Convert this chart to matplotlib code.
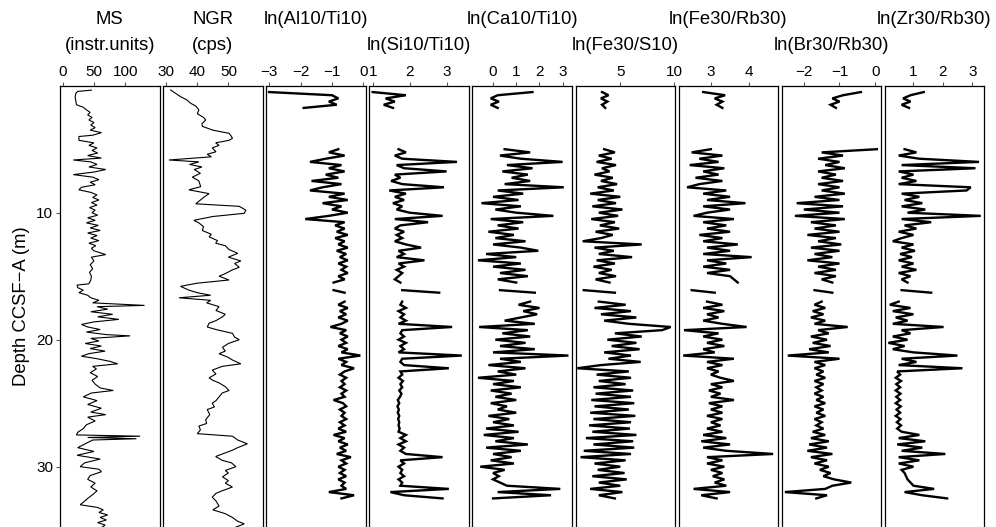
import numpy as np
import matplotlib
matplotlib.use('Agg')
import matplotlib.pyplot as plt

plt.rcParams['font.family'] = ['Liberation Sans', 'DejaVu Sans']

nan = np.nan

# magnetic susceptibility, depth (m) and value
ms_depth = [0.35, 0.45, 0.6, 0.9, 1.2, 1.5, 1.7, 1.9, 2.1, 2.3, 2.5, 2.7, 2.9, 3.1, 3.3, 3.5, 3.7, 3.9, 4.0, 4.3,
            4.5, 4.7, 4.9, 5.1, 5.3, 5.5, 5.7, 5.85, 6.0, 6.2, 6.4, 6.6, 6.8, 7.0, 7.2, 7.4, 7.6, 7.8, 8.0, 8.2,
            8.4, 8.6, 8.8, 9.0, 9.2, 9.4, 9.6, 9.8, 10.0, 10.2, 10.4, 10.6, 10.8, 11.0, 11.2, 11.4, 11.6, 11.8, 12.0, 12.2,
            12.4, 12.6, 12.8, 13.0, 13.3, 13.5, 13.8, 14.1, 14.4, 14.7, 15.0, 15.3, 15.6, 15.7, 15.9, 16.1, 16.3, 16.5, 16.7, 16.9,
            17.1, 17.3, 17.4, 17.6, 17.8, 18.0, 18.2, 18.4, 18.6, 18.8, 19.0, 19.2, 19.4, 19.6, 19.7, 19.9, 20.1, 20.3, 20.5, 20.7,
            20.9, 21.1, 21.3, 21.5, 21.7, 21.9, 22.1, 22.3, 22.6, 22.9, 23.2, 23.5, 23.8, 24.0, 24.2, 24.5, 24.8, 25.1, 25.4, 25.7,
            25.9, 26.1, 26.4, 26.7, 27.0, 27.3, 27.5, 27.6, 27.7, 27.8, 27.9, 28.2, 28.5, 28.8, 29.1, 29.4, 29.7, 30.0, 30.2, 30.4,
            30.7, 31.0, 31.3, 31.6, 31.9, 32.2, 32.5, 32.8, 33.0, 33.2, 33.4, 33.6, 33.8, 34.0, 34.2, 34.4, 34.6, 34.8]
ms_val = [46, 24, 21, 20, 21, 22, 33, 38, 44, 40, 47, 42, 50, 45, 52, 44, 62, 48, 26, 26,
          50, 42, 55, 47, 56, 40, 62, 17, 45, 55, 42, 69, 50, 17, 48, 58, 44, 52, 30, 26,
          45, 55, 48, 58, 46, 55, 43, 52, 47, 56, 40, 52, 38, 57, 44, 60, 40, 55, 45, 58,
          42, 53, 46, 50, 69, 46, 50, 44, 48, 43, 46, 45, 42, 23, 24, 33, 26, 40, 45, 58,
          48, 131, 55, 72, 45, 80, 56, 90, 50, 30, 40, 60, 38, 70, 108, 45, 58, 36, 62, 44,
          68, 42, 30, 55, 75, 88, 48, 54, 44, 56, 47, 52, 60, 81, 46, 33, 55, 40, 62, 45,
          69, 40, 52, 38, 33, 24, 22, 124, 40, 118, 48, 36, 24, 50, 23, 60, 35, 28, 58, 62,
          44, 40, 52, 45, 55, 48, 40, 33, 28, 55, 65, 58, 72, 60, 70, 56, 68, 62]

# natural gamma radiation
ngr_depth = [0.34, 0.6, 0.86, 1.1, 1.39, 1.6, 1.9, 2.2, 2.5, 2.7, 3.0, 3.2, 3.5, 3.75, 4.0, 4.15, 4.3, 4.5, 4.7, 4.9,
             5.2, 5.4, 5.6, 5.85, 6.0, 6.2, 6.4, 6.6, 6.9, 7.2, 7.5, 7.95, 8.2, 8.5, 8.8, 9.1, 9.3, 9.5, 9.8, 10.05,
             10.3, 10.6, 10.8, 11.1, 11.4, 11.7, 11.9, 12.2, 12.4, 12.6, 12.9, 13.2, 13.5, 13.8, 14.0, 14.3, 14.5, 14.8, 15.0, 15.3,
             15.55, 15.8, 16.1, 16.3, 16.5, 16.7, 16.9, 17.1, 17.4, 17.7, 18.0, 18.2, 18.5, 18.7, 19.0, 19.2, 19.5, 19.8, 20.0, 20.3,
             20.6, 20.9, 21.1, 21.4, 21.6, 21.9, 22.1, 22.4, 22.7, 23.0, 23.2, 23.4, 23.7, 24.0, 24.2, 24.5, 24.8, 25.0, 25.3, 25.5,
             25.9, 26.3, 26.6, 26.8, 27.1, 27.4, 27.6, 27.9, 28.2, 28.5, 28.7, 29.0, 29.2, 29.5, 29.7, 30.0, 30.3, 30.5, 30.8, 31.1,
             31.3, 31.6, 31.9, 32.1, 32.4, 32.7, 33.1, 33.4, 33.7, 34.0, 34.3, 34.5, 34.8]
ngr_val = [31.4, 33.0, 34.6, 36.5, 37.9, 39.5, 40.5, 40.0, 42.0, 42.7, 41.5, 41.6, 45.0, 50.2, 51.0, 51.3, 50.2, 45.9, 47.0, 44.8,
           46.0, 43.2, 44.5, 30.9, 40.5, 37.5, 41.5, 39.0, 41.0, 38.4, 40.5, 41.1, 37.3, 43.8, 42.0, 40.5, 39.5, 53.5, 55.6, 55.1,
           45.0, 38.9, 40.5, 42.0, 41.6, 44.5, 43.8, 46.5, 45.9, 49.0, 50.2, 53.0, 50.0, 54.0, 52.0, 53.5, 51.3, 49.0, 47.0, 50.2,
           40.0, 34.6, 37.3, 40.0, 44.3, 34.1, 44.3, 43.0, 47.0, 46.0, 49.0, 48.1, 46.0, 43.8, 43.2, 46.0, 51.3, 52.0, 53.5, 50.0,
           48.1, 49.0, 47.0, 50.0, 51.3, 54.0, 48.0, 44.8, 46.0, 43.8, 45.0, 47.0, 49.0, 50.2, 48.0, 47.0, 46.0, 44.8, 45.5, 43.2,
           44.0, 42.7, 43.0, 40.5, 41.0, 40.0, 51.3, 53.0, 56.1, 53.0, 51.3, 48.0, 45.9, 48.0, 51.0, 52.4, 49.0, 50.0, 48.1, 50.0,
           49.0, 51.3, 48.0, 46.0, 44.8, 46.0, 47.0, 45.0, 49.0, 51.3, 53.0, 55.1, 52.0]

# XRF scanning depths: four core sections separated by gaps
xrf_depth = np.concatenate([np.arange(0.5, 1.76, 0.25), [nan],
                            np.arange(5.0, 15.51, 0.25), [nan],
                            [16.1, 16.3], [nan],
                            np.arange(17.0, 32.51, 0.25)])

al_ti = [-3.0, -1.0, -0.8, -1.1, -0.85, -1.9, nan,
         -0.8, -1.1, -0.6, -1.2, -1.7, -0.7, -1.1, -0.6, -1.2, -0.8,
         -1.65, -0.7, -1.3, -1.7, -0.6, -1.1, -0.5, -1.3, -0.7, -1.0,
         -0.5, -1.1, -1.85, -0.6, -0.9, -0.6, -0.85, -0.5, -0.9, -0.6,
         -0.8, -0.5, -0.85, -0.55, -0.75, -0.5, -0.8, -0.55, -0.7, -0.5,
         -0.8, -0.6, -0.95, nan,
         -0.95, -0.6, nan,
         -0.6, -0.8, -0.5, -0.75, -0.55, -0.8, -0.5, -0.7, -1.05, -0.55,
         -0.75, -0.5, -0.7, -0.55, -0.8, -0.5, -0.7, -0.1, -0.8, -0.55,
         -0.7, -0.3, -0.6, -0.75, -0.55, -0.7, -0.6, -0.75, -0.55, -0.7,
         -0.6, -0.95, -0.65, -0.55, -0.75, -0.6, -0.7, -0.55, -0.75, -0.6,
         -0.8, -0.55, -0.95, -0.6, -0.8, -0.5, -0.75, -0.55, -0.85, -0.4,
         -0.7, -0.55, -0.8, -0.6, -0.75, -0.55, -0.8, -0.6, -0.7, -0.55,
         -1.1, -0.3, -0.7]

si_ti = [1.0, 1.9, 1.35, 1.6, 1.3, 1.55, nan,
         1.7, 1.9, 1.6, 1.8, 3.28, 1.65, 1.85, 3.0, 1.6, 1.75,
         1.5, 1.8, 2.93, 1.45, 1.9, 1.6, 1.85, 1.55, 1.8, 1.65,
         2.0, 2.89, 1.6, 2.5, 1.75, 1.6, 1.85, 1.65, 1.8, 1.6,
         1.9, 2.31, 1.7, 1.85, 1.65, 2.4, 1.7, 1.85, 1.65, 1.8,
         1.7, 1.6, 1.75, nan,
         1.8, 2.8, nan,
         1.8, 1.75, 1.9, 1.7, 1.85, 1.75, 1.9, 1.7, 3.15, 1.8,
         1.75, 1.85, 1.7, 1.9, 1.75, 1.85, 1.7, 3.41, 1.8, 1.75,
         1.85, 3.06, 1.75, 1.8, 1.7, 1.82, 1.75, 1.8, 1.72, 1.78,
         1.74, 1.68, 1.72, 1.67, 1.71, 1.68, 1.72, 1.69, 1.72, 1.70,
         1.73, 1.70, 1.9, 1.75, 1.9, 1.7, 1.85, 1.75, 1.9, 2.89,
         1.75, 1.85, 1.7, 1.8, 1.75, 1.85, 1.7, 1.8, 1.75, 3.06,
         1.48, 1.85, 2.89]

ca_ti = [1.7, 0.2, -0.1, 0.25, -0.1, 0.2, nan,
         0.5, 1.6, 0.3, 1.2, 3.0, 0.6, 1.7, 0.4, 1.5, 0.8,
         1.6, 0.5, 3.05, 0.2, 1.3, 0.0, 1.1, -0.5, 1.2, 0.1,
         1.0, 2.6, -0.1, 1.3, 0.2, 1.1, -0.2, 0.9, 0.1, 1.4,
         0.0, 1.2, 1.95, -0.3, 1.0, -0.65, 1.2, 0.0, 1.4, 0.3,
         1.5, 0.2, 1.0, nan,
         0.3, 1.8, nan,
         1.6, 1.1, 2.0, 1.3, 1.9, 1.2, 0.5, 1.8, -0.6, 1.5,
         0.4, 1.6, 0.1, 1.4, 0.3, 1.8, 0.0, 3.25, 0.3, 1.2,
         -0.2, 1.4, 0.2, 1.0, -0.65, 0.9, 0.0, 1.2, -0.1, 0.8,
         0.1, 1.0, -0.1, 0.6, 0.2, 1.0, -0.2, 0.7, 0.0, 0.9,
         -0.3, 1.1, -0.4, 0.9, 0.1, 1.5, -0.3, 1.2, 0.0, 0.8,
         -0.1, 0.9, -0.55, 0.5, 0.0, 0.25, 0.0, 0.3, 0.6, 2.9,
         0.2, 2.5, 0.0]

fe_s = [3.3, 3.9, 3.2, 3.8, 3.3, 3.6, nan,
        3.5, 4.5, 3.0, 4.2, 2.8, 4.6, 3.3, 4.0, 2.6, 4.3,
        3.2, 4.7, 2.9, 4.4, 2.2, 5.0, 2.9, 4.6, 2.4, 5.2,
        3.0, 4.8, 2.3, 4.5, 3.1, 4.9, 2.7, 4.3, 3.2, 1.5,
        7.0, 2.6, 4.4, 3.0, 6.1, 2.8, 4.5, 2.5, 4.2, 3.0,
        4.6, 2.7, 4.0, nan,
        1.6, 4.5, nan,
        3.0, 5.5, 2.6, 6.0, 3.2, 6.5, 3.5, 5.8, 9.7, 8.9,
        4.5, 7.0, 3.8, 6.5, 4.2, 6.8, 3.5, 6.0, 3.9, 6.9,
        3.2, 1.0, 5.8, 2.8, 6.0, 3.0, 5.5, 2.5, 6.2, 2.7,
        6.0, 2.3, 6.3, 2.6, 5.8, 2.2, 6.4, 2.5, 6.0, 2.1,
        5.9, 2.4, 6.5, 1.8, 6.2, 2.5, 6.3, 1.6, 6.0, 1.3,
        5.5, 2.6, 5.0, 2.9, 5.4, 2.4, 5.6, 3.0, 5.0, 2.2,
        5.2, 3.0, 4.5]

fe_rb = [2.8, 3.37, 3.1, 3.3, 3.15, 3.3, nan,
         3.0, 2.5, 3.3, 2.7, 3.2, 2.45, 3.35, 2.8, 3.2, 2.6,
         3.3, 2.7, 2.38, 3.4, 2.8, 3.5, 2.9, 3.9, 2.8, 3.5,
         2.9, 2.55, 3.6, 2.8, 3.4, 2.9, 3.5, 2.7, 3.3, 2.8,
         3.7, 2.9, 3.5, 2.8, 4.06, 2.9, 3.4, 2.8, 3.5, 2.9,
         3.5, 3.6, 3.7, nan,
         2.5, 3.1, nan,
         2.9, 3.3, 2.8, 3.35, 2.9, 3.2, 2.8, 3.3, 3.93, 2.3,
         3.2, 2.8, 3.3, 2.9, 3.35, 2.8, 3.1, 2.28, 3.6, 2.9,
         3.3, 2.9, 3.2, 3.0, 3.25, 3.6, 3.0, 3.3, 2.95, 3.25,
         3.0, 3.6, 2.95, 3.3, 3.0, 3.3, 2.9, 3.3, 3.0, 3.25,
         2.9, 3.3, 2.8, 3.4, 2.75, 3.5, 2.8, 3.4, 4.62, 2.9,
         3.3, 2.9, 3.35, 3.0, 3.3, 3.05, 3.35, 3.1, 3.4, 2.55,
         3.5, 2.75, 3.15]

br_rb = [-0.4, -0.9, -1.2, -1.0, -1.25, -1.1, nan,
         0.05, -1.5, -0.9, -1.6, -1.0, -1.4, -0.85, -1.6, -1.1, -1.5,
         -0.9, -1.6, -1.0, -1.5, -0.85, -1.7, -1.0, -2.2, -0.9, -2.0,
         -1.0, -2.25, -0.85, -1.8, -1.1, -1.7, -1.0, -1.9, -1.1, -1.6,
         -0.95, -1.8, -1.0, -1.7, -1.2, -1.9, -1.0, -1.6, -1.1, -1.7,
         -1.1, -1.5, -1.2, nan,
         -1.7, -1.2, nan,
         -1.5, -1.7, -1.4, -1.75, -1.45, -1.8, -1.4, -1.7, -0.77, -1.6,
         -1.3, -1.8, -1.35, -1.75, -1.25, -1.85, -1.3, -2.45, -1.0, -1.7,
         -1.4, -1.7, -1.45, -1.65, -1.4, -1.7, -1.45, -1.65, -1.5, -1.7,
         -1.45, -1.65, -1.4, -1.7, -1.45, -1.65, -1.4, -1.7, -1.5, -1.65,
         -1.45, -1.75, -1.4, -1.8, -1.3, -1.85, -1.35, -1.9, -1.2, -1.8,
         -1.35, -1.7, -1.3, -1.55, -1.25, -1.45, -1.15, -0.67, -1.2, -1.4,
         -2.53, -1.35, -1.65]

zr_rb = [1.35, 0.9, 0.65, 0.9, 0.6, 0.85, nan,
         0.7, 1.1, 0.5, 1.2, 3.22, 0.6, 3.1, 0.5, 1.0, 0.6,
         1.1, 0.5, 2.94, 2.8, 0.6, 1.2, 0.7, 1.3, 0.6, 1.4,
         0.8, 3.28, 0.6, 1.6, 0.7, 1.1, 0.5, 1.0, 0.6, 0.3,
         1.0, 0.6, 1.05, 0.55, 0.95, 0.5, 1.0, 0.6, 1.1, 0.5,
         0.9, 0.6, 0.8, nan,
         0.6, 1.6, nan,
         0.5, 0.2, 0.9, 0.3, 1.0, 0.4, 0.8, 0.3, 2.02, 0.6,
         0.9, 0.3, 0.8, 0.15, 0.7, 0.3, 1.0, 2.49, 0.6, 1.1,
         0.5, 2.66, 0.45, 0.55, 0.4, 0.58, 0.42, 0.55, 0.4, 0.56,
         0.42, 0.55, 0.4, 0.57, 0.43, 0.55, 0.4, 0.56, 0.44, 0.58,
         0.45, 0.6, 1.2, 0.5, 1.4, 0.45, 1.3, 0.6, 2.08, 0.5,
         1.2, 0.5, 1.0, 0.6, 0.7, 0.75, 0.8, 0.9, 1.0, 1.7,
         0.7, 1.3, 2.14]

titles = ['MS\n(instr.units)', 'NGR\n(cps)', 'ln(Al10/Ti10)', 'ln(Si10/Ti10)', 'ln(Ca10/Ti10)',
          'ln(Fe30/S10)', 'ln(Fe30/Rb30)', 'ln(Br30/Rb30)', 'ln(Zr30/Rb30)']
xticks = [[0, 50, 100], [30, 40, 50], [-3, -2, -1, 0], [1, 2, 3], [0, 1, 2, 3],
          [5, 10], [3, 4], [-2, -1, 0], [1, 2, 3]]
xlims = [(-4.3, 155), (29.0, 61.0), (-3.09, 0.07), (0.91, 3.6), (-0.89, 3.4),
         (0.83, 10.1), (2.16, 4.75), (-2.62, 0.17), (0.03, 3.4)]

series = [(ms_depth, ms_val), (ngr_depth, ngr_val)]
for v in [al_ti, si_ti, ca_ti, fe_s, fe_rb, br_rb, zr_rb]:
    if len(v) != len(xrf_depth):
        raise ValueError('length mismatch %d vs %d' % (len(v), len(xrf_depth)))
    series.append((xrf_depth, v))

W, H = 996, 527
fig = plt.figure(figsize=(W / 100, H / 100), dpi=100)

top_px = 85.7
for i in range(9):
    left = 60 + i * 103.1
    ax = fig.add_axes([left / W, 0, 99.5 / W, (H - top_px) / H])
    d, v = series[i]
    # XRF scans are very dense, so draw them heavier
    ax.plot(v, d, color='black', lw=0.8 if i < 2 else 1.7, solid_joinstyle='miter')
    ax.set_xlim(xlims[i])
    ax.set_ylim(34.75, 0)
    ax.xaxis.tick_top()
    ax.set_xticks(xticks[i])
    ax.tick_params(axis='x', length=3, width=0.8, color='0.35', pad=2, labelsize=11)
    for s in ['top', 'left', 'right']:
        ax.spines[s].set_linewidth(0.9)
    ax.spines['bottom'].set_visible(False)
    if i == 0:
        ax.set_yticks([10, 20, 30])
        ax.tick_params(axis='y', length=3, width=0.8, color='0.35', pad=2, labelsize=11)
    else:
        ax.set_yticks([])

    cx = (left + 99.5 / 2) / W
    t = titles[i]
    if '\n' in t:
        a, b = t.split('\n')
        fig.text(cx, 1 - 20 / H, a, ha='center', va='center', fontsize=13.3)
        fig.text(cx, 1 - 45 / H, b, ha='center', va='center', fontsize=13.3)
    elif i % 2 == 0:
        fig.text(cx, 1 - 20 / H, t, ha='center', va='center', fontsize=13.3)
    else:
        fig.text(cx, 1 - 45 / H, t, ha='center', va='center', fontsize=13.3)

fig.text(22 / W, 0.5 * (H - top_px) / H, 'Depth CCSF\u2212A (m)', rotation=90,
         ha='center', va='center', fontsize=13.3)

fig.savefig('out.png', dpi=100)
